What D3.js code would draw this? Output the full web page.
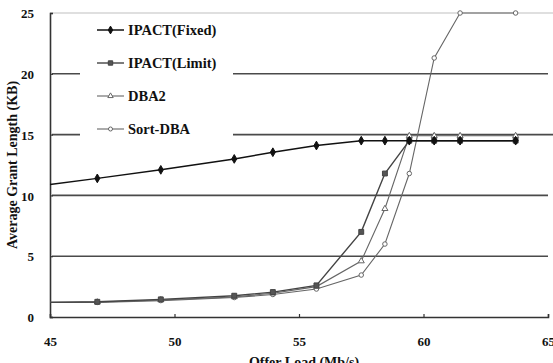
<!DOCTYPE html>
<html>
<head>
<meta charset="utf-8">
<script src="https://cdn.jsdelivr.net/npm/d3@7"></script>
<style>
  body { margin: 0; background: #fff; }
  svg { display: block; }
</style>
</head>
<body>
<svg id="chart" width="553" height="363"></svg>
<script>
// offer load (Mb/s) shared by all series
const loads = [45, 46.9, 49.45, 52.4, 53.95, 55.7, 57.5, 58.45, 59.43, 60.43, 61.47, 63.7];
const fixed = [10.9, 11.4, 12.1, 13.0, 13.55, 14.1, 14.5, 14.5, 14.5, 14.5, 14.5, 14.5];
const limit = [1.2, 1.25, 1.45, 1.75, 2.05, 2.6, 7.0, 11.8, 14.5, 14.5, 14.5, 14.5];
const dba2 = [1.2, 1.22, 1.4, 1.65, 1.95, 2.5, 4.6, 8.9, 14.9, 14.9, 14.9, 14.9];
const sortDba = [1.2, 1.2, 1.35, 1.6, 1.85, 2.3, 3.45, 6.0, 11.8, 21.3, 25, 25];
const seriesNames = ["IPACT(Fixed)", "IPACT(Limit)", "DBA2", "Sort-DBA"];
const xTicks = [45, 50, 55, 60, 65];
const yTicks = [0, 5, 10, 15, 20, 25];

const svg = d3.select("#chart");
const width = +svg.attr("width");
const height = +svg.attr("height");
const margin = { top: 13, right: 5, bottom: 46, left: 50 };
const serif = "Liberation Serif";

const x = d3.scaleLinear().domain([45, 65]).range([margin.left, width - margin.right]);
const y = d3.scaleLinear().domain([0, 25]).range([height - margin.bottom, margin.top]);

// horizontal grid
svg.append("g").selectAll("line")
  .data(yTicks.filter(d => d > 0))
  .join("line")
  .attr("x1", d => d === 25 ? x(45) : x(45) + 2)
  .attr("x2", d => (d === 25 || d === 15) ? width : x(65))
  .attr("y1", d => y(d)).attr("y2", d => y(d))
  .attr("stroke", d => d === 25 ? "#d4d4d4" : "#4a4a4a")
  .attr("stroke-width", d => d === 25 ? 1.5 : 1.6);

// legend box (covers grid)
const lg = svg.append("g");
lg.append("rect")
  .attr("x", 80).attr("y", 16).attr("width", 153).attr("height", 126)
  .attr("fill", "#fff");

// axes
const xAxis = svg.append("g")
  .attr("transform", `translate(0,${y(0)})`)
  .call(d3.axisBottom(x).tickValues(xTicks).tickSize(-3).tickPadding(20).tickFormat(d3.format("d")));
const yAxis = svg.append("g")
  .attr("transform", `translate(${x(45)},0)`)
  .call(d3.axisLeft(y).tickValues(yTicks).tickSize(-3).tickPadding(16).tickFormat(d3.format("d")));
[xAxis, yAxis].forEach(a => {
  a.attr("font-family", serif).attr("font-size", 13).attr("font-weight", "bold");
  a.select(".domain").attr("stroke", "#333").attr("stroke-width", 1.6);
  a.selectAll(".tick line").attr("stroke", "#333").attr("stroke-width", 1.2);
  a.selectAll(".tick text").attr("fill", "#111");
});
yAxis.selectAll(".tick text").attr("dy", "0.36em");

// titles
svg.append("text")
  .attr("x", 304).attr("y", 367)
  .attr("text-anchor", "middle")
  .attr("font-family", serif).attr("font-weight", "bold").attr("font-size", 14)
  .attr("fill", "#111")
  .text("Offer Load (Mb/s)");
svg.append("text")
  .attr("transform", `translate(17,${165}) rotate(-90)`)
  .attr("text-anchor", "middle")
  .attr("font-family", serif).attr("font-weight", "bold").attr("font-size", 14)
  .attr("fill", "#111")
  .text("Average Grant Length (KB)");

// series
const styles = [
  { vals: fixed, color: "#111", width: 1.5, mark: d3.symbolDiamond, size: 22, fill: "#111" },
  { vals: limit, color: "#444", width: 1.4, mark: d3.symbolSquare, size: 24, fill: "#555" },
  { vals: dba2, color: "#666", width: 1.1, mark: d3.symbolTriangle, size: 16, fill: "#fff" },
  { vals: sortDba, color: "#666", width: 1.1, mark: d3.symbolCircle, size: 16, fill: "#fff" }
];

const line = d3.line().x(d => x(d[0])).y(d => y(d[1]));

// draw back to front so Fixed sits on top
styles.slice().reverse().forEach(s => {
  const pts = loads.map((l, i) => [l, s.vals[i]]);
  svg.append("path")
    .datum(pts)
    .attr("d", line)
    .attr("fill", "none")
    .attr("stroke", s.color)
    .attr("stroke-width", s.width);
  svg.append("g").selectAll("path")
    .data(pts.filter(p => p[0] > 45))
    .join("path")
    .attr("transform", d => `translate(${x(d[0])},${y(d[1])})`)
    .attr("d", d3.symbol().type(s.mark).size(s.size))
    .attr("fill", s.fill)
    .attr("stroke", s.color)
    .attr("stroke-width", 1);
});

// legend entries
seriesNames.forEach((name, i) => {
  const s = styles[i];
  const ly = 30 + i * 33;
  lg.append("line")
    .attr("x1", 97).attr("x2", 124).attr("y1", ly).attr("y2", ly)
    .attr("stroke", s.color).attr("stroke-width", s.width);
  lg.append("path")
    .attr("transform", `translate(110.5,${ly})`)
    .attr("d", d3.symbol().type(s.mark).size(s.size * 0.8))
    .attr("fill", s.fill).attr("stroke", s.color).attr("stroke-width", 1);
  lg.append("text")
    .attr("x", 128).attr("y", ly).attr("dy", "0.35em")
    .attr("font-family", serif).attr("font-weight", "bold").attr("font-size", 14.5)
    .attr("fill", "#111")
    .text(name);
});
</script>
</body>
</html>
